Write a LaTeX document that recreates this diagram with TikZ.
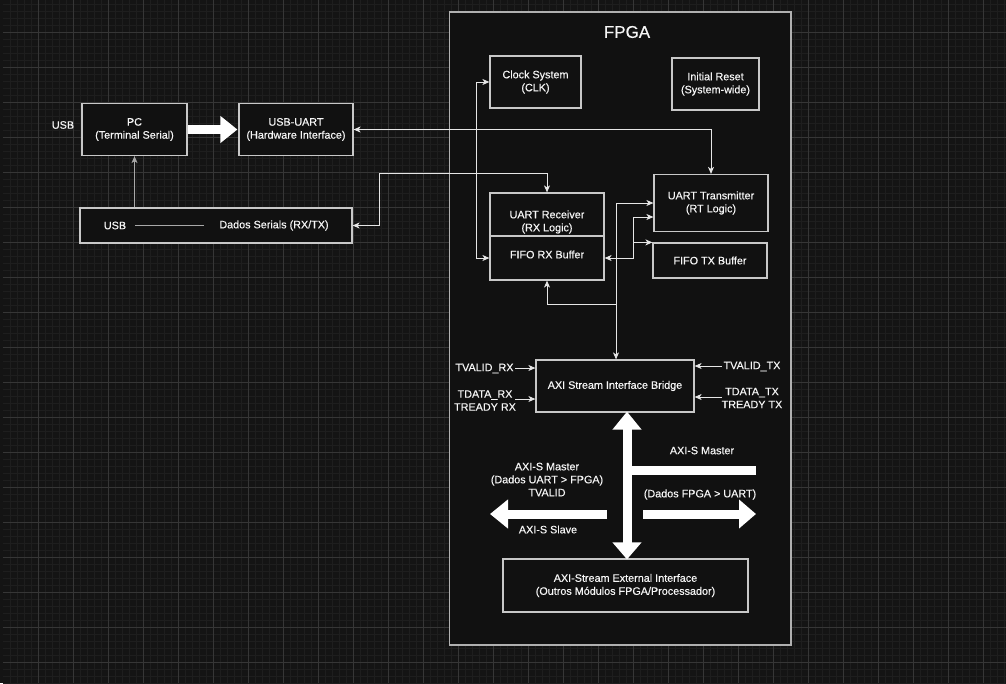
\documentclass[tikz,border=0pt]{standalone}
\usepackage{fontspec}
\setmainfont{Liberation Sans}[BoldFont=Liberation Sans, BoldFeatures={FakeBold=0.35}]
\usetikzlibrary{arrows.meta}
\definecolor{bgc}{HTML}{141414}
\definecolor{minorc}{HTML}{1E1E1E}
\definecolor{majorc}{HTML}{363636}
\definecolor{boxfill}{HTML}{111111}
\definecolor{boxline}{HTML}{C8C8C8}
\definecolor{fpgaline}{HTML}{B0B0B0}
\definecolor{txt}{HTML}{F6F6F6}
\definecolor{wire}{HTML}{E6E6E6}
\definecolor{greywire}{HTML}{A8A8A8}
\tikzset{
  blk/.style={draw=boxline, fill=boxfill, line width=1.2pt, inner sep=0pt, text=txt, align=center, font=\fontsize{10.8}{13}\selectfont\bfseries},
  lbl/.style={text=txt, align=center, inner sep=0pt, font=\fontsize{10.8}{13}\selectfont\bfseries},
  conn/.style={draw=wire, line width=0.9pt, arrows={-{Stealth[length=7pt,width=6pt,inset=2pt]}}},
  conn2/.style={draw=wire, line width=0.9pt, arrows={{Stealth[length=7pt,width=6pt,inset=2pt]}-{Stealth[length=7pt,width=6pt,inset=2pt]}}},
  fat/.style={draw=white, line width=9pt},
}
\begin{document}
\begin{tikzpicture}[x=1pt,y=-1pt]
\useasboundingbox (0,0) rectangle (1006,683);
\fill[bgc] (0,0) rectangle (1006,683);
\fill[black!92] (0,0) rectangle (3,683);
\foreach \x in {10,17,...,1006} \draw[minorc, line width=1pt] (\x,0) -- (\x,683);
\foreach \y in {4,11,...,683} \draw[minorc, line width=1pt] (3,\y) -- (1006,\y);
\foreach \x in {38,73,...,1006} \draw[majorc, line width=1pt] (\x,0) -- (\x,683);
\foreach \y in {32,67,...,683} \draw[majorc, line width=1pt] (3,\y) -- (1006,\y);

% FPGA container
\node[draw=fpgaline, fill=boxfill, line width=1.3pt, minimum width=341.5pt, minimum height=633pt, inner sep=0pt] (fpga) at (620.25,328.5) {};
\node[lbl, font=\fontsize{17}{20}\selectfont\bfseries] (fpgat) at (627,32) {FPGA};

% left side
\node[lbl] (usbl) at (63,125) {USB};
\node[blk, minimum width=105pt, minimum height=52pt] (pc) at (134.5,129.5) {PC\\(Terminal Serial)};
\node[blk, minimum width=114pt, minimum height=52pt] (usbuart) at (296,129.5) {USB-UART\\(Hardware Interface)};
\node[blk, minimum width=272pt, minimum height=35pt] (dados) at (216,225.5) {};
\node[lbl] (usbin) at (115,225.5) {USB};
\node[lbl] (dadost) at (274,225.5) {Dados Serials (RX/TX)};
\coordinate (l1) at (135,225);
\coordinate (l2) at (204,225);
\draw[greywire, line width=1pt] (l1) -- (l2);

% FPGA blocks
\node[blk, minimum width=91pt, minimum height=52pt] (clk) at (535.5,82) {Clock System\\(CLK)};
\node[blk, minimum width=87pt, minimum height=52pt] (rst) at (715.5,84) {Initial Reset\\(System-wide)};
\node[blk, minimum width=114pt, minimum height=58pt] (recv) at (547,222) {UART Receiver\\(RX Logic)};
\node[blk, minimum width=114pt, minimum height=44pt] (fiforx) at (547,258) {};
\node[lbl] (fiforxt) at (547,254.5) {FIFO RX Buffer};
\node[blk, minimum width=114pt, minimum height=57pt] (trans) at (711,203) {UART Transmitter\\(RT Logic)};
\node[blk, minimum width=114pt, minimum height=35pt] (fifotx) at (710,260.5) {FIFO TX Buffer};
\node[blk, minimum width=158pt, minimum height=52pt] (bridge) at (615,386) {AXI Stream Interface Bridge};
\node[blk, minimum width=245pt, minimum height=53pt] (ext) at (625.5,585.5) {AXI-Stream External Interface\\(Outros Módulos FPGA/Processador)};

% signal labels
\node[lbl] (tvrx) at (484.5,368.5) {TVALID\_RX};
\node[lbl] (tdrx) at (485,400.5) {TDATA\_RX\\TREADY RX};
\node[lbl] (tvtx) at (752,366.5) {TVALID\_TX};
\node[lbl] (tdtx) at (752,398) {TDATA\_TX\\TREADY TX};
\coordinate (s1) at (515,368);
\coordinate (s2) at (515,399);
\coordinate (s3) at (722,366);
\coordinate (s4) at (722,397);
\draw[conn] (s1) -- (s1 -| bridge.west);
\draw[conn] (s2) -- (s2 -| bridge.west);
\draw[conn] (s3) -- (s3 -| bridge.east);
\draw[conn] (s4) -- (s4 -| bridge.east);

% connectors
\draw[greywire, line width=1pt, -{Stealth[length=7pt,width=6pt,inset=2pt]}] (dados.north -| pc.south) -- (pc.south);
\draw[fat, -{Triangle[length=17pt,width=26pt]}] (pc.east) -- ([xshift=-1pt]usbuart.west);
\draw[conn2] (usbuart.east) -| (trans.north);
\coordinate (c1) at (379,173);
\draw[conn2] (dados.east) -| (c1) -| (recv.north);
\coordinate (c2) at (476,82);
\draw[conn2] (clk.west) -- (c2) |- (fiforx.west);
\coordinate (c3) at (633,217);
\draw[conn2] (fiforx.east) -| (c3) -- (c3 -| trans.west);
\draw[conn] (c3 |- fifotx.north west) -- (fifotx.north west);
\coordinate (c4) at (616,304);
\coordinate (c5) at (616,203);
\draw[conn2] (fiforx.south) |- (c4) -- (c4 |- bridge.north);
\draw[conn] (c4) -- (c5) -- (c5 -| trans.west);

% big AXI arrows
\coordinate (v) at (627,0);
\draw[fat, {Triangle[length=18pt,width=28pt]}-{Triangle[length=17pt,width=28pt]}] ([yshift=1pt]bridge.south -| v) -- ([yshift=-1pt]ext.north -| v);
\coordinate (h1) at (627,470.5);
\coordinate (h2) at (756,470.5);
\draw[fat] (h1) -- (h2);
\coordinate (la) at (607,514);
\coordinate (lb) at (490,514);
\draw[fat, -{Triangle[length=18pt,width=28pt]}] (la) -- (lb);
\coordinate (ra) at (643,514);
\coordinate (rb) at (756,514);
\draw[fat, -{Triangle[length=17pt,width=28pt]}] (ra) -- (rb);

\node[lbl] (axim) at (702,450.5) {AXI-S Master};
\node[lbl] (dfu) at (700,494.5) {(Dados FPGA > UART)};
\node[lbl] (aximl) at (547,479.5) {AXI-S Master\\(Dados UART > FPGA)\\TVALID};
\node[lbl] (axis) at (548,529.5) {AXI-S Slave};
\end{tikzpicture}
\end{document}
